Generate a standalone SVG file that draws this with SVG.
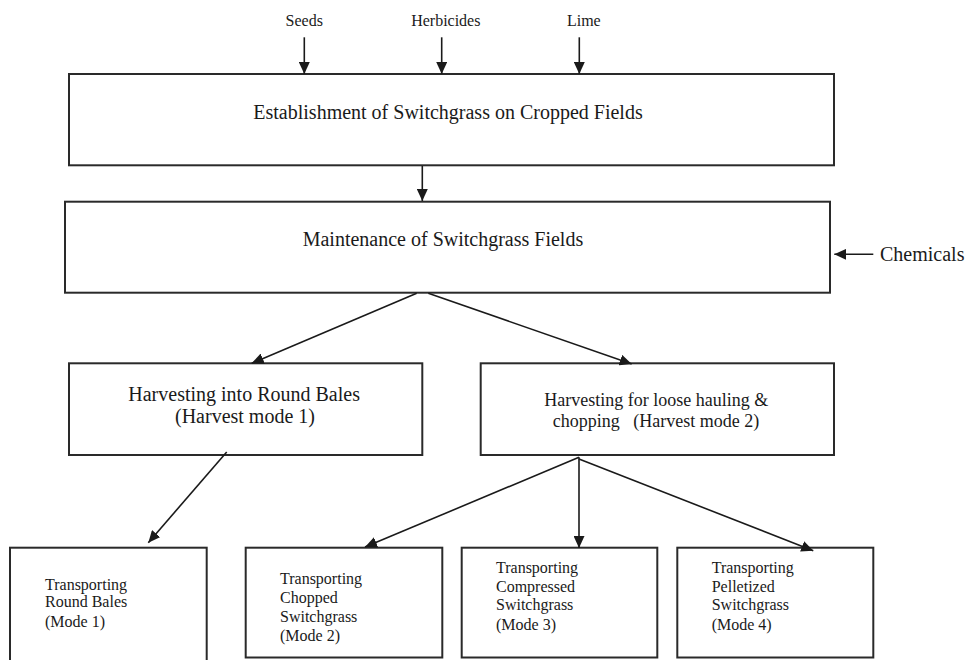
<svg xmlns="http://www.w3.org/2000/svg" width="966" height="660" viewBox="0 0 966 660">
<style>
  .box { fill: #ffffff; stroke: #2a2a2a; stroke-width: 2; }
  .t { font-family: "Liberation Serif", "Times New Roman", serif; fill: #1a1a1a; }
  .t20 { font-size: 20px; }
  .t18 { font-size: 18px; }
  .t16 { font-size: 16px; }
  .con { stroke: #1a1a1a; stroke-width: 1.6; fill: none; marker-end: url(#arr); }
</style>
<defs>
  <marker id="arr" viewBox="0 0 12 11" refX="12" refY="5.5" markerWidth="12" markerHeight="11" markerUnits="userSpaceOnUse" orient="auto">
    <path d="M0,0 L12,5.5 L0,11 z" fill="#1a1a1a"/>
  </marker>
</defs>
<rect x="0" y="0" width="966" height="660" fill="#ffffff"/>

<g id="inputs">
  <text class="t t16" x="304.2" y="26" text-anchor="middle">Seeds</text>
  <text class="t t16" x="445.8" y="26" text-anchor="middle">Herbicides</text>
  <text class="t t16" x="583.8" y="26" text-anchor="middle">Lime</text>
  <text class="t t20" x="880" y="261">Chemicals</text>
</g>

<g id="establishment">
  <rect class="box" x="69" y="74" width="765" height="91.3"/>
  <text class="t t20" x="253.3" y="119.3">Establishment of Switchgrass on Cropped Fields</text>
</g>

<g id="maintenance">
  <rect class="box" x="65" y="201.7" width="765" height="91"/>
  <text class="t t20" x="302.7" y="246">Maintenance of Switchgrass Fields</text>
</g>

<g id="harvest1">
  <rect class="box" x="69" y="363.3" width="353.3" height="91.7"/>
  <text class="t t20" x="128.3" y="400.5">Harvesting into Round Bales</text>
  <text class="t t20" x="175" y="423">(Harvest mode 1)</text>
</g>

<g id="harvest2">
  <rect class="box" x="480.7" y="363.3" width="353.3" height="91.7"/>
  <text class="t t18" x="544.3" y="406">Harvesting for loose hauling &amp;</text>
  <text class="t t18" x="552.7" y="427" xml:space="preserve" style="white-space:pre">chopping   (Harvest mode 2)</text>
</g>

<g id="transport1">
  <rect class="box" x="10" y="547.7" width="196.7" height="130"/>
  <text class="t t16" x="45" y="589.5">Transporting</text>
  <text class="t t16" x="45" y="606.7">Round Bales</text>
  <text class="t t16" x="45" y="626.5">(Mode 1)</text>
</g>

<g id="transport2">
  <rect class="box" x="245.7" y="547.7" width="196.6" height="109.8"/>
  <text class="t t16" x="280" y="584.3">Transporting</text>
  <text class="t t16" x="280" y="603.3">Chopped</text>
  <text class="t t16" x="280" y="621.7">Switchgrass</text>
  <text class="t t16" x="280" y="641.3">(Mode 2)</text>
</g>

<g id="transport3">
  <rect class="box" x="461.7" y="547.7" width="195.6" height="109.8"/>
  <text class="t t16" x="496" y="573.3">Transporting</text>
  <text class="t t16" x="496" y="591.7">Compressed</text>
  <text class="t t16" x="496" y="610">Switchgrass</text>
  <text class="t t16" x="496" y="630">(Mode 3)</text>
</g>

<g id="transport4">
  <rect class="box" x="677.3" y="547.7" width="196" height="109.8"/>
  <text class="t t16" x="711.7" y="573.3">Transporting</text>
  <text class="t t16" x="711.7" y="591.7">Pelletized</text>
  <text class="t t16" x="711.7" y="610">Switchgrass</text>
  <text class="t t16" x="711.7" y="630">(Mode 4)</text>
</g>

<g id="connectors">
  <line class="con" x1="304.3" y1="37.3" x2="304.3" y2="74"/>
  <line class="con" x1="441.7" y1="37.3" x2="441.7" y2="74"/>
  <line class="con" x1="579.3" y1="37.3" x2="579.3" y2="74"/>
  <line class="con" x1="873.3" y1="254.3" x2="834.3" y2="254.3"/>
  <line class="con" x1="422.3" y1="166" x2="422.3" y2="201"/>
  <line class="con" x1="416.7" y1="293.3" x2="251.7" y2="363.3"/>
  <line class="con" x1="428.3" y1="293.3" x2="631.7" y2="364"/>
  <line class="con" x1="226.7" y1="452" x2="148.3" y2="542.7"/>
  <line class="con" x1="579" y1="457.3" x2="365" y2="547"/>
  <line class="con" x1="579" y1="457.3" x2="579" y2="548"/>
  <line class="con" x1="579" y1="459" x2="813.3" y2="550.7"/>
</g>
</svg>
